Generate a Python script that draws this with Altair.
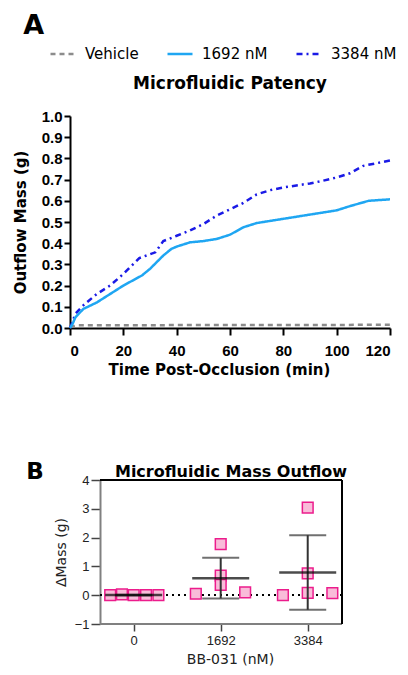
import altair as alt
import pandas as pd

FONT = "DejaVu Sans"
FONT_NUM = "Liberation Sans"

# ---------------- Panel A data ----------------
series_names = ["Vehicle", "1692 nM", "3384 nM"]

t_veh = [0, 3, 120]
m_veh = [0.005, 0.013, 0.015]

t_1692 = [0, 1, 2, 5, 10, 20, 27, 30, 35, 38, 40, 45, 50, 55, 60, 65, 70, 80, 90, 100, 105, 112, 120]
m_1692 = [0, 0.02, 0.05, 0.09, 0.12, 0.20, 0.248, 0.279, 0.342, 0.373, 0.384, 0.404, 0.41, 0.42,
          0.44, 0.475, 0.495, 0.515, 0.535, 0.555, 0.575, 0.60, 0.607]

t_3384 = [0, 1, 2, 5, 10, 15, 20, 26, 32, 35, 40, 45, 50, 55, 60, 65, 70, 75, 80, 90, 95, 100, 105, 110, 120]
m_3384 = [0, 0.03, 0.067, 0.107, 0.16, 0.20, 0.255, 0.33, 0.357, 0.41, 0.435, 0.46, 0.49, 0.53, 0.56,
          0.59, 0.63, 0.65, 0.663, 0.682, 0.695, 0.71, 0.73, 0.765, 0.79]

x_ticks_A = [0, 20, 40, 60, 80, 100, 120]
y_ticks_A = [0, 0.1, 0.2, 0.3, 0.4, 0.5, 0.6, 0.7, 0.8, 0.9, 1.0]

# ---------------- Panel B data ----------------
dose_labels = ["0", "1692", "3384"]
group_idx = [0, 0, 0, 0, 0, 1, 1, 1, 1, 1, 2, 2, 2, 2, 2]
jitter = [-0.27, -0.135, 0, 0.142, 0.284, -0.286, 0, 0, 0, 0.281, -0.285, 0, 0, 0, 0.283]
delta_mass = [0, 0.03, 0, 0, 0, 0.05, 1.77, 0.68, 0.36, 0.1, 0.0, 3.04, 0.76, 0.08, 0.07]
y_ticks_B = [-1, 0, 1, 2, 3, 4]
# frame edges of panel B in category units (left axis / right border)
frame_left, frame_right = -0.387, 2.394
view_left = -0.732

# ---------------- Panel A ----------------
dfA = pd.concat([
    pd.DataFrame({"t": t_veh, "m": m_veh, "series": "Vehicle", "o": 0}),
    pd.DataFrame({"t": t_3384, "m": m_3384, "series": "3384 nM", "o": 1}),
    pd.DataFrame({"t": t_1692, "m": m_1692, "series": "1692 nM", "o": 2}),
], ignore_index=True)

color_scale = alt.Scale(domain=series_names, range=["#8c8c8c", "#1fa6f2", "#1a1ae6"])
dash_scale = alt.Scale(domain=series_names, range=[[5, 4], [1, 0], [6, 4, 2, 4]])

leg = alt.Legend(orient="none", legendX=-21, legendY=-76, direction="horizontal", title=None,
                 symbolType="stroke", symbolSize=625, symbolStrokeWidth=2.5,
                 labelFont=FONT, labelFontSize=15, labelColor="black",
                 columnPadding=23, labelOffset=8)

axA = dict(domainColor="black", domainWidth=2, tickColor="black", tickWidth=2,
           labelFont=FONT_NUM, labelFontSize=15, labelFontWeight="bold", labelColor="black",
           titleFont=FONT, titleFontSize=15, titleFontWeight="bold", titleColor="black", grid=False)

A = alt.Chart(dfA).mark_line(strokeWidth=2.5).encode(
    x=alt.X("t:Q", scale=alt.Scale(domain=[0, 120], nice=False),
            axis=alt.Axis(values=x_ticks_A, title="Time Post-Occlusion (min)", titleX=149,
                          tickSize=7, labelPadding=8, titlePadding=4, **axA)),
    y=alt.Y("m:Q", scale=alt.Scale(domain=[0, 1], nice=False),
            axis=alt.Axis(values=y_ticks_A, format=".1f", title="Outflow Mass (g)",
                          tickSize=6, labelPadding=2, titlePadding=13, **axA)),
    color=alt.Color("series:N", scale=color_scale, legend=leg),
    strokeDash=alt.StrokeDash("series:N", scale=dash_scale, legend=leg),
    order="o:Q",
).properties(
    width=320, height=212,
    view=alt.ViewBackground(stroke=None),
    title=alt.TitleParams("Microfluidic  Patency", font=FONT, fontSize=17, fontWeight="bold",
                          color="black", offset=16),
)

# ---------------- Panel B ----------------
dfB = pd.DataFrame({
    "g": group_idx,
    "x": [g + j for g, j in zip(group_idx, jitter)],
    "v": delta_mass,
})

label_expr = " : ".join(f"datum.value == {i} ? '{s}'" for i, s in enumerate(dose_labels[:-1])) + f" : '{dose_labels[-1]}'"

axB = dict(tickColor="#444444", tickWidth=1.5, labelOverlap=False, tickCount=10,
           labelFont=FONT_NUM, labelFontSize=13, labelColor="#222222",
           titleFont=FONT, titleFontSize=14, titleFontWeight="normal", titleColor="#222222", grid=False)

xB_scale = alt.Scale(domain=[view_left, frame_right], nice=False, zero=False)
yB_scale = alt.Scale(domain=[-1, 4], nice=False)
xB_axis = alt.Axis(values=[0, 1, 2], labelExpr=label_expr, title="BB-031 (nM)", domain=False,
                   tickSize=7, labelPadding=3, titlePadding=5, titleX=160, **axB)
yB_axis = alt.Axis(values=y_ticks_B, format="d", title="ΔMass (g)", offset=-30, domainColor="#808080",
                   domainWidth=2, tickSize=9, labelPadding=2, titlePadding=6, **axB)

baseB = alt.Chart(dfB)

zero_line = baseB.mark_rule(color="black", strokeDash=[1.5, 4.5], strokeWidth=1.3).encode(
    x=alt.datum(frame_left, scale=xB_scale, axis=xB_axis), x2=alt.datum(frame_right),
    y=alt.datum(0, scale=yB_scale, axis=yB_axis),
)
bottom_line = baseB.mark_rule(color="#808080", strokeWidth=2).encode(
    x=alt.datum(frame_left), x2=alt.datum(frame_right), y=alt.datum(-1))
top_line = baseB.mark_rule(color="black", strokeWidth=1).encode(
    x=alt.datum(frame_left), x2=alt.datum(frame_right), y=alt.datum(4))
right_line = baseB.mark_rule(color="black", strokeWidth=1).encode(
    x=alt.datum(frame_right), y=alt.datum(-1), y2=alt.datum(4))

pts = baseB.mark_point(shape="square", size=115, fill="#f9bcd9", fillOpacity=1,
                       stroke="#ec1c8c", strokeWidth=1.5, opacity=1).encode(
    x=alt.X("x:Q", scale=xB_scale, axis=xB_axis),
    y=alt.Y("v:Q", scale=yB_scale, axis=yB_axis),
)

stats = baseB.transform_aggregate(
    mean="mean(v)", sd="stdev(v)", groupby=["g"]
).transform_calculate(lo="datum.mean - datum.sd", hi="datum.mean + datum.sd")

err = stats.mark_rule(color="#333333", strokeWidth=2).encode(
    x=alt.X("g:Q", scale=xB_scale, axis=xB_axis),
    y=alt.Y("lo:Q", scale=yB_scale, axis=yB_axis), y2="hi:Q")
cap_hi = stats.mark_tick(orient="horizontal", size=37, thickness=2, color="#333333").encode(
    x=alt.X("g:Q", scale=xB_scale, axis=xB_axis), y=alt.Y("hi:Q", scale=yB_scale, axis=yB_axis))
cap_lo = stats.mark_tick(orient="horizontal", size=37, thickness=2, color="#333333").encode(
    x=alt.X("g:Q", scale=xB_scale, axis=xB_axis), y=alt.Y("lo:Q", scale=yB_scale, axis=yB_axis))
mean_line = stats.mark_tick(orient="horizontal", size=57, thickness=2.5, color="black").encode(
    x=alt.X("g:Q", scale=xB_scale, axis=xB_axis), y=alt.Y("mean:Q", scale=yB_scale, axis=yB_axis))

B = alt.layer(zero_line, bottom_line, top_line, right_line, pts, err, cap_hi, cap_lo, mean_line).properties(
    width=272, height=144,
    view=alt.ViewBackground(stroke=None),
    title=alt.TitleParams("Microfluidic Mass Outflow", font=FONT, fontSize=16, fontWeight="bold",
                          color="black", offset=-6, dx=25, frame="group"),
)

B_panel = alt.concat(B, columns=1).properties(
    title=alt.TitleParams("B", anchor="start", font=FONT, fontSize=23, fontWeight="bold",
                          color="black", dx=-28, dy=20, offset=0),
)

chart = alt.vconcat(
    A,
    B_panel,
    spacing=84,
).properties(
    padding={"left": 5, "top": 4, "right": 0, "bottom": 0},
    title=alt.TitleParams("A", anchor="start", font=FONT, fontSize=27, fontWeight="bold",
                          color="black", dx=10, offset=0),
)

chart.save("out.html", embed_options={"renderer": "svg", "actions": False})
